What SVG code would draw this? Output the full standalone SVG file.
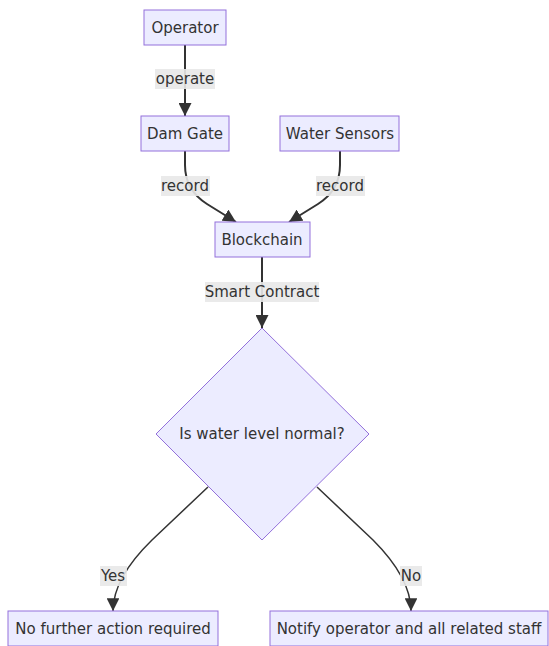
<svg xmlns="http://www.w3.org/2000/svg" width="549" height="646" viewBox="0 0 549 646">
<style>
.node rect,.node polygon{fill:#ECECFF;stroke:#9370DB;stroke-width:1}
text{font-family:"DejaVu Sans","Liberation Sans",sans-serif;font-size:15px;fill:#333;text-anchor:middle;dominant-baseline:central}
.edge{fill:none;stroke:#333;stroke-width:2}
.thin{stroke-width:1.5}
.lbl{fill:#e8e8e8;opacity:0.9}
</style>
<defs>
<marker id="arr" viewBox="0 0 10 10" refX="10" refY="5" markerWidth="6.5" markerHeight="6.5" markerUnits="strokeWidth" orient="auto">
<path d="M0,0 L10,5 L0,10 z" fill="#333"/>
</marker>
<marker id="arr2" viewBox="0 0 10 10" refX="10" refY="5" markerWidth="8.5" markerHeight="8.5" markerUnits="strokeWidth" orient="auto">
<path d="M0,0 L10,5 L0,10 z" fill="#333"/>
</marker>
</defs>
<g id="connectors">
<path class="edge" d="M185,45 V116" marker-end="url(#arr)"/>
<path class="edge" d="M185,151 V165 Q185,190 207,204 L236,222" marker-end="url(#arr)"/>
<path class="edge" d="M340,151 V165 Q340,190 318,204 L289,222" marker-end="url(#arr)"/>
<path class="edge" d="M262,257 V328" marker-end="url(#arr)"/>
<path class="edge thin" d="M208,487 L152,540 Q113,578 113,611" marker-end="url(#arr2)"/>
<path class="edge thin" d="M317,487 L373,540 Q411,578 411,611" marker-end="url(#arr2)"/>
<rect class="lbl" x="155" y="69" width="60" height="20"/>
<text x="185" y="79">operate</text>
<rect class="lbl" x="161" y="176" width="49" height="20"/>
<text x="185" y="186">record</text>
<rect class="lbl" x="316" y="176" width="49" height="20"/>
<text x="340" y="186">record</text>
<rect class="lbl" x="205" y="282" width="114" height="20"/>
<text x="262" y="292">Smart Contract</text>
<rect class="lbl" x="100" y="566" width="27" height="20"/>
<text x="113" y="576">Yes</text>
<rect class="lbl" x="400" y="566" width="22" height="20"/>
<text x="411" y="576">No</text>
</g>
<g id="operator" class="node"><rect x="144" y="10" width="82" height="35"/><text x="185" y="28">Operator</text></g>
<g id="damgate" class="node"><rect x="141" y="116" width="88" height="35"/><text x="185" y="134">Dam Gate</text></g>
<g id="sensors" class="node"><rect x="280" y="116" width="119" height="35"/><text x="340" y="134">Water Sensors</text></g>
<g id="blockchain" class="node"><rect x="215" y="222" width="95" height="35"/><text x="262" y="240">Blockchain</text></g>
<g id="decision" class="node"><polygon points="262,328 369,434 262,540 156,434"/><text x="262" y="434">Is water level normal?</text></g>
<g id="noaction" class="node"><rect x="8" y="611" width="210" height="35"/><text x="113" y="629">No further action required</text></g>
<g id="notify" class="node"><rect x="270" y="611" width="278" height="35"/><text x="409" y="629">Notify operator and all related staff</text></g>
</svg>
